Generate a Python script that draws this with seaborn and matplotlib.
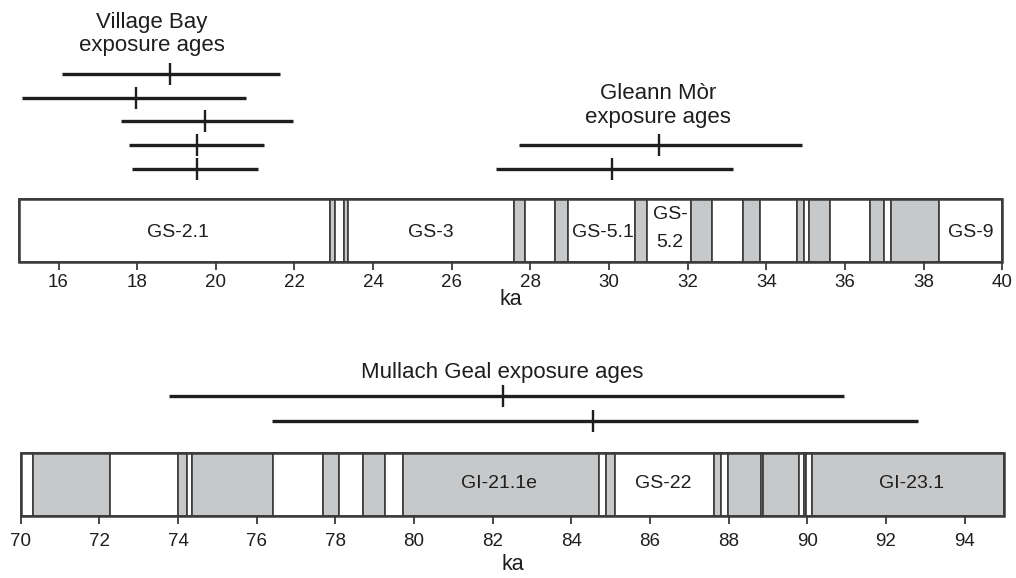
import matplotlib
matplotlib.use("Agg")
import matplotlib.pyplot as plt
import seaborn as sns
import pandas as pd

# ---------------- data ----------------
# Upper panel: stadial / interstadial bands (ka), alternating white (stadial) / grey (interstadial)
top_edges = [15, 22.91, 23.03, 23.25, 23.37, 27.57, 27.87, 28.63, 28.96, 30.67, 30.97,
             32.09, 32.62, 33.41, 33.85, 34.78, 34.95, 35.08, 35.62, 36.63, 36.98,
             37.16, 38.39, 40]
top_labels = ["GS-2.1", "GS-3", "GS-5.1", "GS-9"]
top_label_ka = [19.03, 25.47, 29.84, 39.21]
split_label = ["GS-", "5.2"]
split_label_ka = 31.55

# Lower panel bands
bot_edges = [70, 70.32, 72.27, 74.01, 74.22, 74.35, 76.41, 77.69, 78.08, 78.71, 79.26,
             79.71, 84.70, 84.89, 85.11, 87.62, 87.81, 87.99, 88.82, 88.88, 89.80,
             89.92, 89.97, 90.13, 95]
bot_labels = ["GI-21.1e", "GS-22", "GI-23.1"]
bot_label_ka = [82.16, 86.34, 92.65]

# Exposure ages (ka): centre, lower, upper
vb_age = [18.84, 17.97, 19.72, 19.51, 19.51]
vb_lo = [16.08, 15.06, 17.58, 17.80, 17.88]
vb_hi = [21.63, 20.77, 21.95, 21.23, 21.07]

gm_age = [31.26, 30.08]
gm_lo = [27.72, 27.13]
gm_hi = [34.91, 33.14]

mg_age = [82.25, 84.56]
mg_lo = [73.77, 76.40]
mg_hi = [90.92, 92.82]

# ---------------- style ----------------
sns.set_theme(style="white")
plt.rcParams["font.family"] = ["Liberation Sans", "DejaVu Sans"]
INK = "#1e1e1e"
GREY = "#c6c8ca"
EDGE = "#3a3a3a"

W, H = 1016, 578
fig = plt.figure(figsize=(W / 100, H / 100), dpi=100)
fig.patch.set_facecolor("white")


def px_axes(x0, x1, y0, y1):
    return fig.add_axes([x0 / W, 1 - y1 / H, (x1 - x0) / W, (y1 - y0) / H])


def draw_bands(ax, edges, bar_top, bar_bot):
    lefts = edges[:-1]
    widths = [b - a for a, b in zip(edges[:-1], edges[1:])]
    colors = ["white" if i % 2 == 0 else GREY for i in range(len(lefts))]
    bars = ax.barh(y=(bar_top + bar_bot) / 2, width=widths, left=lefts,
                   height=bar_bot - bar_top, color=colors, edgecolor=EDGE,
                   linewidth=1.2, align="center")
    for b in bars:
        b.set_clip_on(False)
    # outer frame
    ax.barh(y=(bar_top + bar_bot) / 2, width=edges[-1] - edges[0], left=edges[0],
            height=bar_bot - bar_top, color="none", edgecolor=EDGE,
            linewidth=1.8, clip_on=False)


def draw_ages(ax, ages, lo, hi, rows):
    ax.hlines(rows, lo, hi, color=INK, linewidth=2.4, clip_on=False)
    df = pd.DataFrame({"age": ages, "row": rows})
    sns.scatterplot(data=df, x="age", y="row", marker="|", s=230, color=INK,
                    linewidth=1.7, ax=ax, legend=False, clip_on=False)


def style_axis(ax, xlim, ylim, ticks, pad):
    ax.set_xlim(*xlim)
    ax.set_ylim(*ylim)
    ax.set_yticks([])
    ax.set_xticks(ticks)
    ax.set_xticklabels([str(t) for t in ticks])
    for s in ax.spines.values():
        s.set_visible(False)
    ax.tick_params(axis="x", direction="out", bottom=True, length=6, width=1.3,
                   color=EDGE, labelsize=13.5, labelcolor=INK, pad=pad)
    ax.set_facecolor("none")
    ax.set_ylabel("")


# ---------------- upper panel ----------------
ax1 = px_axes(19.2, 1002.3, 0, 262)
draw_bands(ax1, top_edges, 199, 262)
draw_ages(ax1, vb_age, vb_lo, vb_hi, [74, 98, 121, 145, 169])
draw_ages(ax1, gm_age, gm_lo, gm_hi, [145, 169])
style_axis(ax1, (15, 40), (262, 0), list(range(16, 41, 2)), pad=2.5)
ax1.set_xlabel("ka", fontsize=15.5, color=INK, labelpad=-1)
for lab, x in zip(top_labels, top_label_ka):
    ax1.text(x, 232, lab, ha="center", va="center", fontsize=14, color=INK)
ax1.text(split_label_ka, 214, split_label[0], ha="center", va="center", fontsize=14, color=INK)
ax1.text(split_label_ka, 242, split_label[1], ha="center", va="center", fontsize=14, color=INK)
ax1.text(18.38, 28, "Village Bay", ha="center", va="baseline", fontsize=16, color=INK)
ax1.text(18.38, 51, "exposure ages", ha="center", va="baseline", fontsize=16, color=INK)
ax1.text(31.24, 99, "Gleann Mòr", ha="center", va="baseline", fontsize=16, color=INK)
ax1.text(31.24, 122.5, "exposure ages", ha="center", va="baseline", fontsize=16, color=INK)

# ---------------- lower panel ----------------
ax2 = px_axes(20.7, 1004.0, 340, 516)
draw_bands(ax2, bot_edges, 453, 516)
draw_ages(ax2, mg_age, mg_lo, mg_hi, [396, 420.5])
style_axis(ax2, (70, 95), (516, 340), list(range(70, 95, 2)), pad=6.5)
ax2.set_xlabel("ka", fontsize=15.5, color=INK, labelpad=2.5)
for lab, x in zip(bot_labels, bot_label_ka):
    ax2.text(x, 484, lab, ha="center", va="center", fontsize=14, color=INK)
ax2.text(82.25, 378, "Mullach Geal exposure ages", ha="center", va="baseline",
         fontsize=16, color=INK)

fig.savefig("out.png", dpi=100, facecolor="white")
